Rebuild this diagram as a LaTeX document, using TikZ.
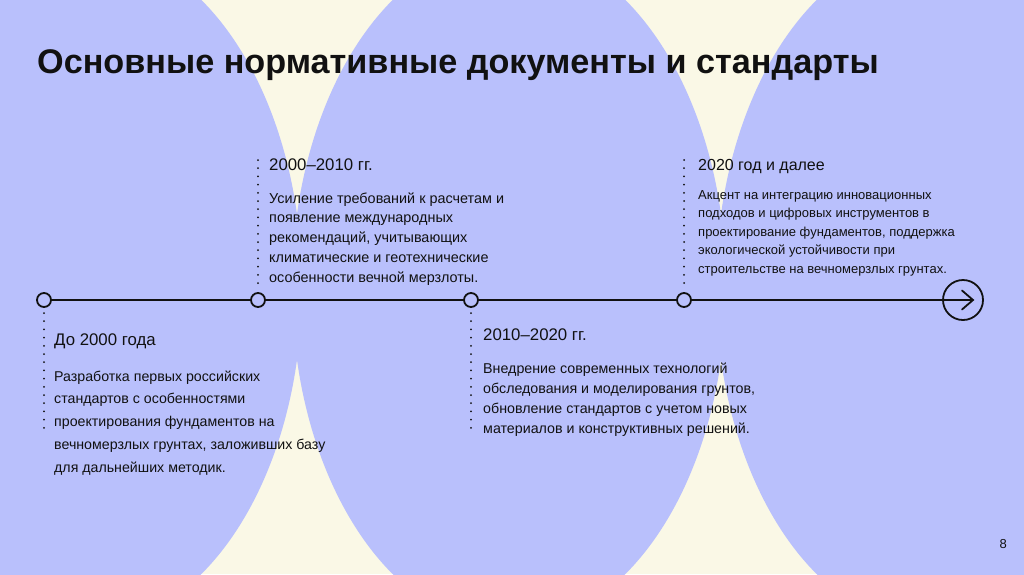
\documentclass[tikz,border=0pt]{standalone}
\usepackage{fontspec}
\setmainfont{Liberation Sans}
\definecolor{cream}{HTML}{FAF8E6}
\definecolor{lav}{HTML}{B9C0FC}
\definecolor{ink}{HTML}{111111}
\tikzset{
  lavshape/.style={fill=lav},
  tnode/.style={circle,draw=ink,line width=1.8pt,minimum size=14pt,inner sep=0pt},
  endnode/.style={circle,draw=ink,line width=1.8pt,minimum size=40pt,inner sep=0pt},
  tline/.style={draw=ink,line width=1.8pt},
  dotline/.style={draw=ink,line width=2pt,line cap=round,dash pattern=on 0pt off 8.2pt},
  head/.style={anchor=base west,inner sep=0pt,text=ink,font=\fontsize{16.8}{19}\selectfont},
  body/.style={anchor=base west,inner sep=0pt,text=ink,align=left},
}
\begin{document}
\begin{tikzpicture}[x=1pt,y=-1pt]
\useasboundingbox (0,0) rectangle (1024,574);
\fill[cream] (0,0) rectangle (1024,574);
\begin{scope}
\clip (0,0) rectangle (1024,574);
\fill[lavshape] (85,287) ellipse [x radius=217pt, y radius=340pt];
\fill[lavshape] (509,287) ellipse [x radius=217pt, y radius=340pt];
\fill[lavshape] (933,287) ellipse [x radius=217pt, y radius=340pt];
\end{scope}
% title
\node[anchor=base west,inner sep=0pt,text=ink,font=\fontsize{34.2}{40}\selectfont\bfseries] (title) at (37,73) {Основные нормативные документы и стандарты};
% timeline
\node[tnode] (n1) at (44,300) {};
\node[tnode] (n2) at (258,300) {};
\node[tnode] (n3) at (471,300) {};
\node[tnode] (n4) at (684,300) {};
\node[endnode] (end) at (963,300) {};
\coordinate (tip) at (973,300);
\draw[tline] (n1) -- (n2);
\draw[tline] (n2) -- (n3);
\draw[tline] (n3) -- (n4);
\draw[tline] (n4) -- (end.west) -- (tip);
\draw[tline,line cap=round,line join=miter] ([xshift=-11pt,yshift=9.5pt]tip) -- (tip) -- ([xshift=-11pt,yshift=-9.5pt]tip);
% dotted connectors
\coordinate (d1a) at (44,313); \coordinate (d1b) at (44,433);
\coordinate (d2a) at (258,160); \coordinate (d2b) at (258,284);
\coordinate (d3a) at (471,313); \coordinate (d3b) at (471,433);
\coordinate (d4a) at (684,160); \coordinate (d4b) at (684,284);
\draw[dotline] (d1a) -- (d1b);
\draw[dotline] (d2a) -- (d2b);
\draw[dotline] (d3a) -- (d3b);
\draw[dotline] (d4a) -- (d4b);
% texts (body nodes anchored at the baseline of their last line)
\node[head] (h1) at (54,345) {До 2000 года};
\node[body,font=\fontsize{14.2}{22.75}\selectfont] (b1) at (54,472) {Разработка первых российских\\стандартов с особенностями\\проектирования фундаментов на\\вечномерзлых грунтах, заложивших базу\\для дальнейших методик.};
\node[head] (h2) at (269,170) {2000–2010 гг.};
\node[body,font=\fontsize{14.4}{19.75}\selectfont] (b2) at (269,282) {Усиление требований к расчетам и\\появление международных\\рекомендаций, учитывающих\\климатические и геотехнические\\особенности вечной мерзлоты.};
\node[head] (h3) at (483,340) {2010–2020 гг.};
\node[body,font=\fontsize{14.25}{20}\selectfont] (b3) at (483,433.3) {Внедрение современных технологий\\обследования и моделирования грунтов,\\обновление стандартов с учетом новых\\материалов и конструктивных решений.};
\node[head,font=\fontsize{16}{19}\selectfont] (h4) at (698,170) {2020 год и далее};
\node[body,font=\fontsize{13}{18.5}\selectfont] (b4) at (698,273.3) {Акцент на интеграцию инновационных\\подходов и цифровых инструментов в\\проектирование фундаментов, поддержка\\экологической устойчивости при\\строительстве на вечномерзлых грунтах.};
\node[anchor=base east,inner sep=0pt,text=ink,font=\fontsize{13}{15}\selectfont] (pg) at (1007,548) {8};
\end{tikzpicture}
\end{document}
